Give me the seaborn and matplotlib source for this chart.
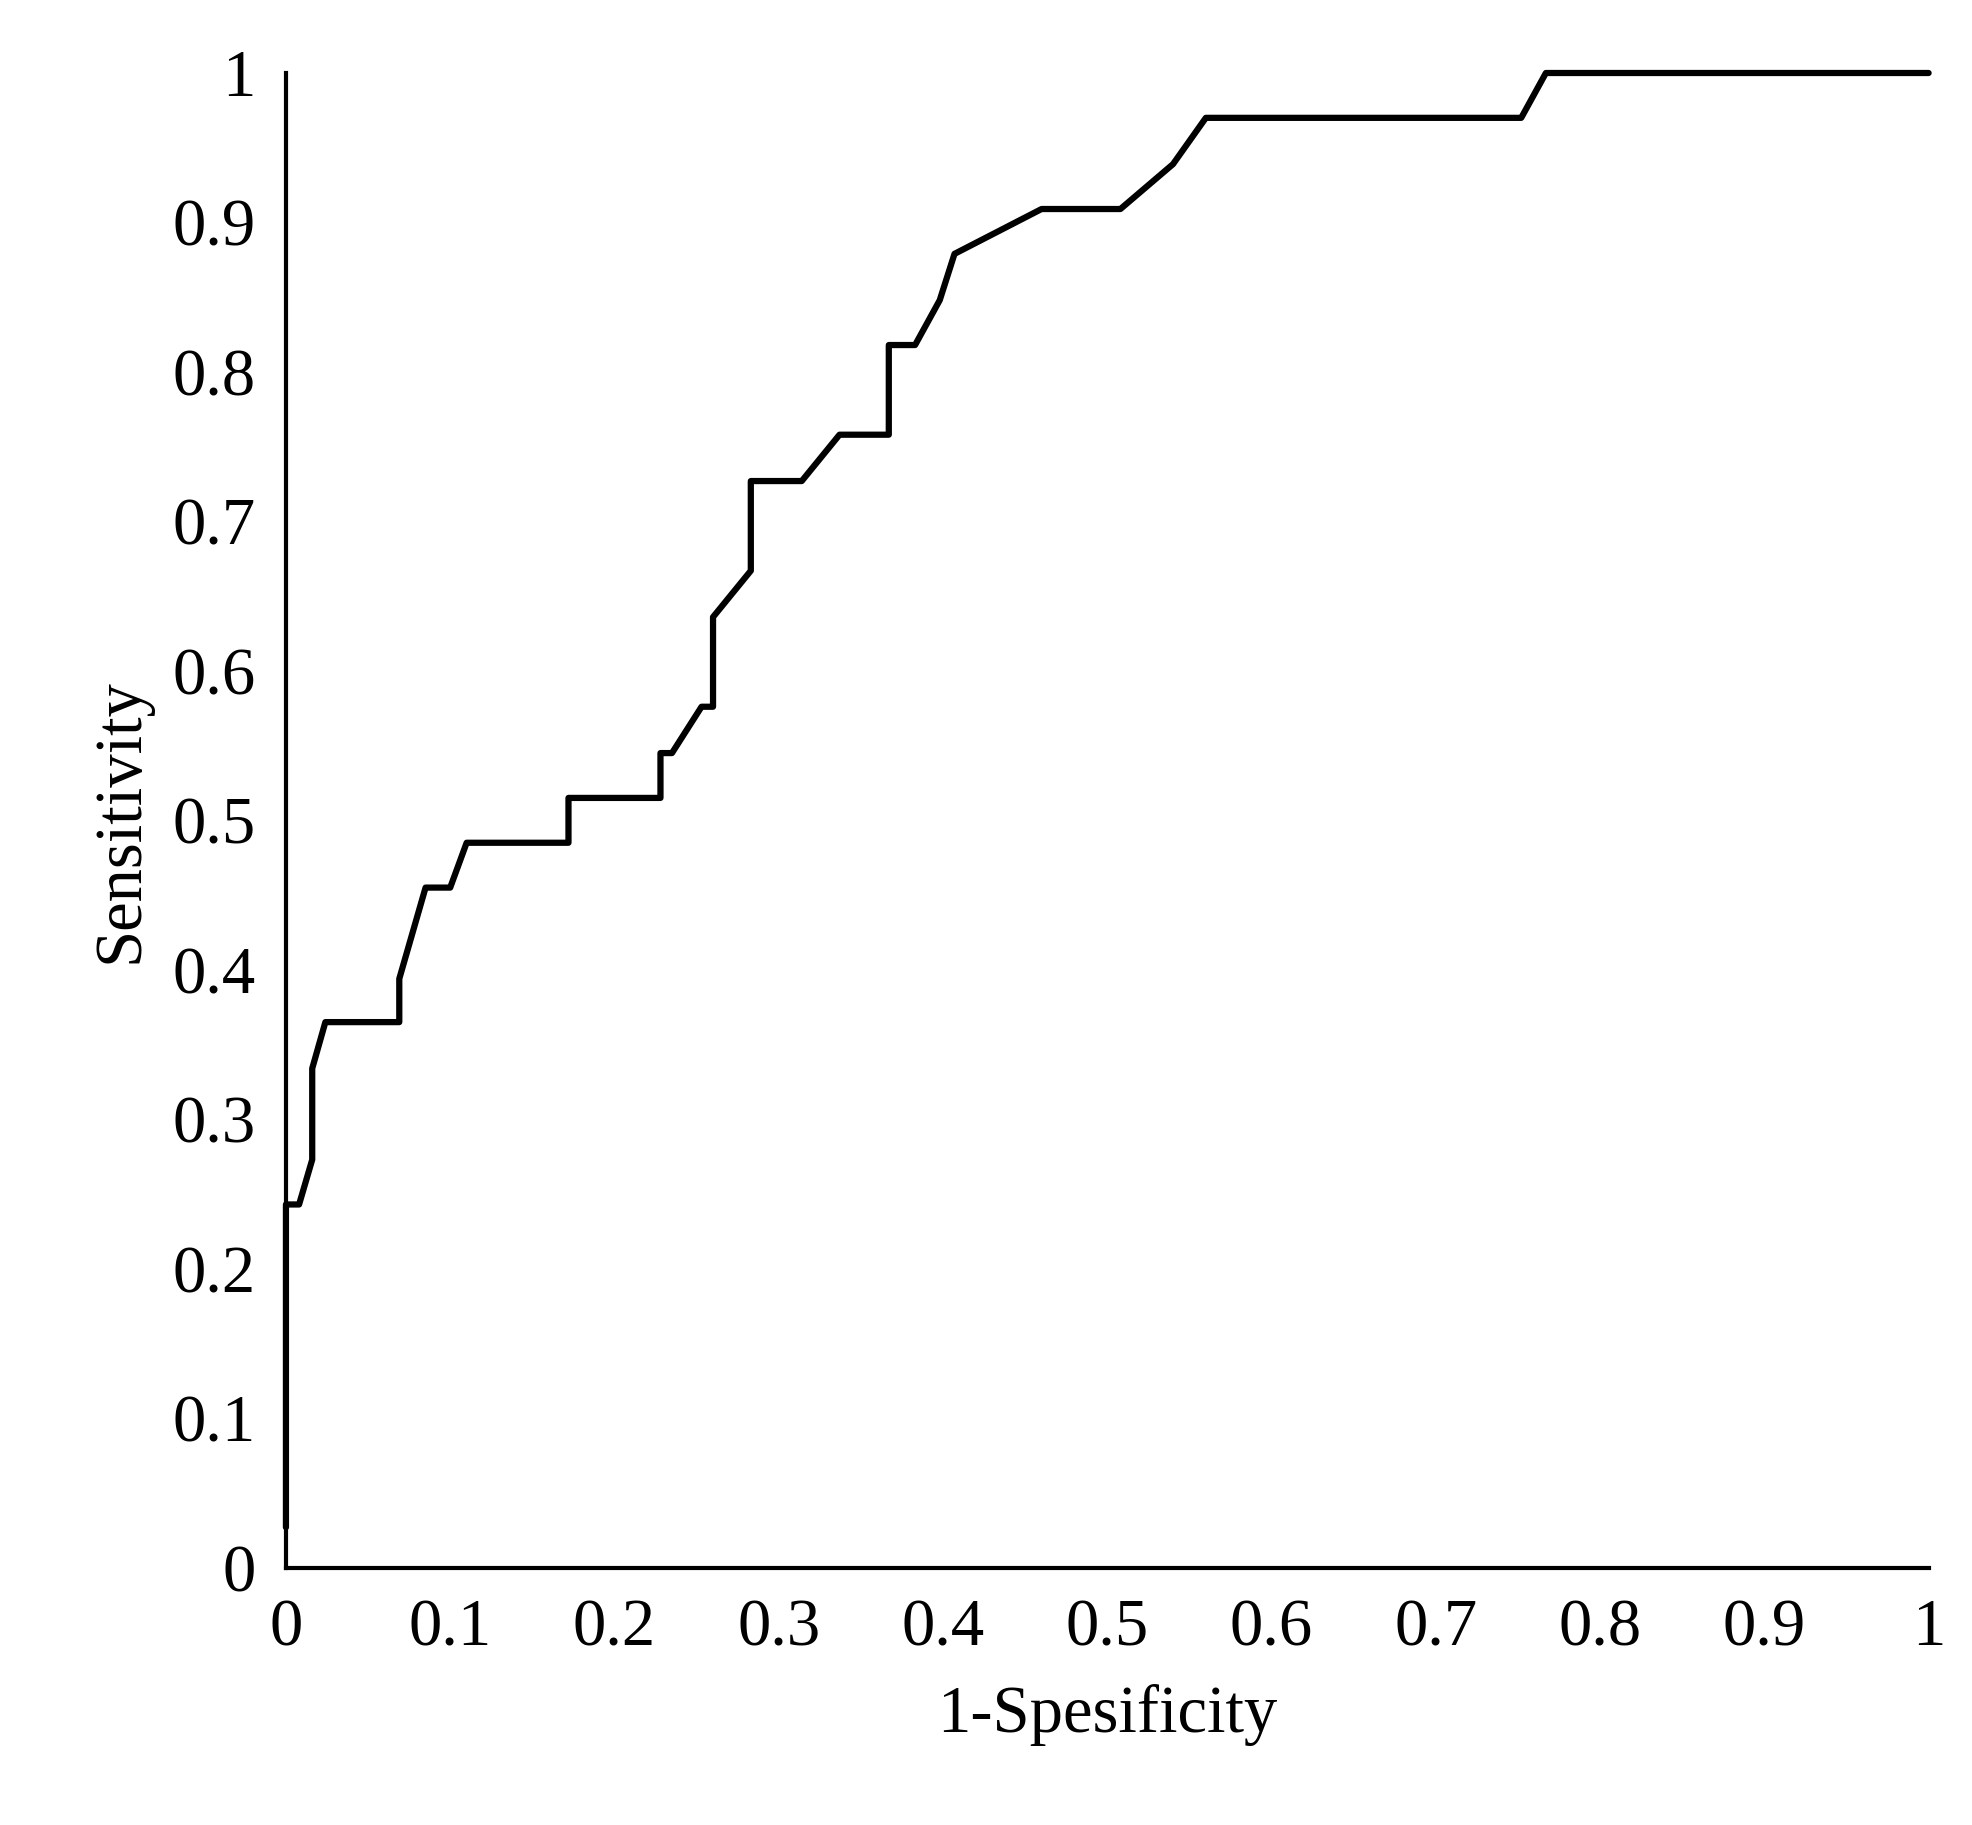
import matplotlib
matplotlib.use("Agg")
import matplotlib.pyplot as plt
import seaborn as sns
import pandas as pd

fpr = [0.0, 0.0, 0.008, 0.016, 0.016, 0.024, 0.069, 0.069, 0.085, 0.1, 0.11, 0.172, 0.172,
       0.228, 0.228, 0.235, 0.253, 0.26, 0.26, 0.283, 0.283, 0.314, 0.337, 0.367, 0.367,
       0.383, 0.398, 0.407, 0.46, 0.508, 0.54, 0.56, 0.752, 0.767, 1.0]
tpr = [0.027, 0.243, 0.243, 0.273, 0.334, 0.365, 0.365, 0.394, 0.455, 0.455, 0.485, 0.485, 0.515,
       0.515, 0.545, 0.545, 0.576, 0.576, 0.636, 0.667, 0.727, 0.727, 0.758, 0.758, 0.818,
       0.818, 0.848, 0.879, 0.909, 0.909, 0.939, 0.97, 0.97, 1.0, 1.0]

sns.set_style("white")
plt.rcParams['font.family'] = ['Liberation Serif', 'DejaVu Serif']
plt.rcParams['text.color'] = 'black'
plt.rcParams['axes.labelcolor'] = 'black'
plt.rcParams['xtick.color'] = 'black'
plt.rcParams['ytick.color'] = 'black'

fig, ax = plt.subplots(figsize=(19.72, 18.25), dpi=100)
df = pd.DataFrame({"x": fpr, "y": tpr})
sns.lineplot(data=df, x="x", y="y", ax=ax, color="black", linewidth=4.5, sort=False, estimator=None)

ax.set_xlim(0, 1)
ax.set_ylim(0, 1)
ticks = [i / 10 for i in range(11)]
labels = ["0"] + [f"{t:.1f}" for t in ticks[1:-1]] + ["1"]
ax.set_xticks(ticks)
ax.set_xticklabels(labels)
ax.set_yticks(ticks)
ax.set_yticklabels(labels)
ax.tick_params(axis="both", length=0, labelsize=48, pad=22)
ax.set_xlabel("1-Spesificity", fontsize=48, labelpad=18)
ax.set_ylabel("Sensitivity", fontsize=48, labelpad=15)
for s in ["top", "right"]:
    ax.spines[s].set_visible(False)
for s in ["left", "bottom"]:
    ax.spines[s].set_linewidth(3)
    ax.spines[s].set_color("black")
for line in ax.lines:
    line.set_clip_on(False)

plt.subplots_adjust(left=0.145, right=0.978, bottom=0.141, top=0.96)
fig.savefig("out.png", dpi=100)
